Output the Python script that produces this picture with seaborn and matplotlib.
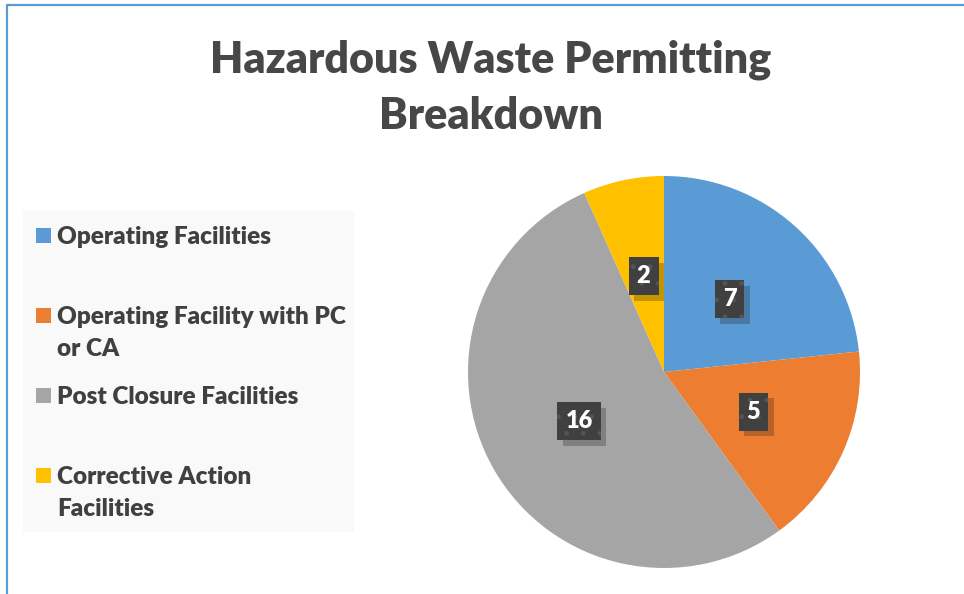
import matplotlib
matplotlib.use('Agg')
import matplotlib.pyplot as plt
import matplotlib.patheffects as pe
from matplotlib.patches import Rectangle
from matplotlib.lines import Line2D
import seaborn as sns

# data
categories = ['Operating Facilities', 'Operating Facility with PC\nor CA',
              'Post Closure Facilities', 'Corrective Action\nFacilities']
counts = [7, 5, 16, 2]
colors = ['#5B9BD5', '#ED7D31', '#A5A5A5', '#FFC000']
title = 'Hazardous Waste Permitting\nBreakdown'

sns.set_theme(style='white')
plt.rcParams['font.family'] = ['Lato', 'DejaVu Sans']

W, H = 964, 594
fig = plt.figure(figsize=(W / 100, H / 100), dpi=100)
fig.patch.set_facecolor('white')

def fx(px):
    return px / W

def fy(py):
    return 1 - py / H

# chart border (left and top edges visible)
fig.add_artist(Line2D([fx(7), fx(7)], [fy(5), 0], color='#5B9BD5', lw=1.6))
fig.add_artist(Line2D([fx(7), 1], [fy(5), fy(5)], color='#5B9BD5', lw=1.6))

# title
fig.text(fx(491), fy(40), title, ha='center', va='top', fontsize=31,
         fontweight='heavy', color='#474747', linespacing=1.47)

# pie
cx, cy, r = 664, 372, 196
ax = fig.add_axes([fx(cx - r), fy(cy + r), 2 * r / W, 2 * r / H])
total = sum(counts)
wedges, texts, autotexts = ax.pie(
    counts, colors=colors, startangle=90, counterclock=False,
    autopct=lambda p: f'{round(p * total / 100):d}', pctdistance=0.5,
    wedgeprops=dict(linewidth=0),
    textprops=dict(color='white', fontsize=17, fontweight='heavy'))
ax.set_xlim(-1, 1)
ax.set_ylim(-1, 1)
ax.set_aspect('equal')
for t in autotexts:
    t.set_bbox(dict(boxstyle='square,pad=0.34', fc='#404040', ec='#555555',
                    hatch='.', lw=0))
    t.get_bbox_patch().set_path_effects(
        [pe.SimplePatchShadow(offset=(4, -4), alpha=0.25, hatch=None), pe.Normal()])

# legend panel
fig.add_artist(Rectangle((fx(23), fy(532)), fx(354) - fx(23), fy(211) - fy(532),
                         transform=fig.transFigure, fc='#F9F9F9', ec='none', zorder=0))
for i, (lab, col) in enumerate(zip(categories, colors)):
    yc = 236 + 80 * i
    fig.add_artist(Rectangle((fx(36), fy(yc + 7)), fx(15), 15 / H,
                             transform=fig.transFigure, fc=col, ec='none'))
    fig.text(fx(57), fy(yc - 10), lab, ha='left', va='top', fontsize=17.5,
             fontweight='heavy', color='#404040', linespacing=1.58)

fig.savefig('out.png', dpi=100)
